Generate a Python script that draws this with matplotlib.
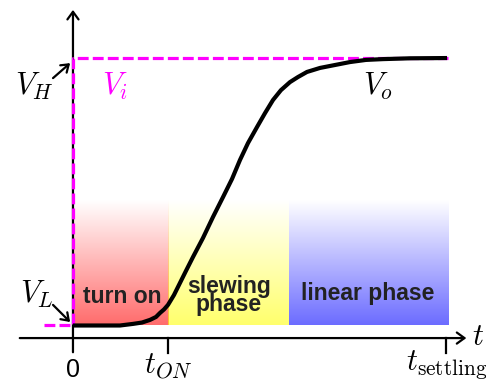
import numpy as np
import matplotlib
matplotlib.use("Agg")
import matplotlib.pyplot as plt

plt.rcParams['mathtext.fontset'] = 'cm'

# time axis: 0 = input step, 1 = t_ON
t_on = 1.0
t_slew_end = 2.27
t_settling = 3.93

# output voltage V_o read along the step response (V_L = 0, V_H = 1)
t_out = [0.0, 0.284, 0.495, 0.632, 0.726, 0.811, 0.874, 0.916, 0.958, 1.0,
         1.063, 1.126, 1.189, 1.263, 1.368, 1.474, 1.579, 1.674, 1.758, 1.842,
         1.937, 2.021, 2.105, 2.189, 2.284, 2.368, 2.463, 2.6, 2.758, 2.916,
         3.084, 3.263, 3.547, 3.937]
v_out = [0.0, 0.0, 0.0, 0.006, 0.011, 0.021, 0.032, 0.047, 0.060, 0.077,
         0.114, 0.159, 0.204, 0.256, 0.327, 0.406, 0.480, 0.548, 0.619, 0.682,
         0.742, 0.794, 0.843, 0.880, 0.910, 0.929, 0.948, 0.963, 0.974, 0.985,
         0.993, 0.996, 0.999, 1.0]

# input step V_i
t_in = [-0.3, 0.0, 0.0, 3.95]
v_in = [0.0, 0.0, 1.0, 1.0]

# shaded phases: (start, end, colour)
phases = [(0.0, t_on, '#ff0000'),
          (t_on, t_slew_end, '#ffff00'),
          (t_slew_end, 3.95, '#0000ff')]
phase_top = 0.47

fig = plt.figure(figsize=(4.86, 3.83), dpi=100)
ax = fig.add_axes([0, 0, 1, 1])
ax.set_xlim(-0.768, 4.347)
ax.set_ylim(-0.215, 1.217)
ax.axis('off')

# colour gradients fading to white upwards
ramp = np.linspace(0.58, 0.0, 200)
for t0, t1, col in phases:
    rgba = np.zeros((200, 1, 4))
    rgba[:, 0, :3] = matplotlib.colors.to_rgb(col)
    rgba[:, 0, 3] = ramp
    ax.imshow(rgba, extent=(t0, t1, 0, phase_top), origin='lower',
              aspect='auto', interpolation='bilinear', zorder=0)

bold = dict(fontsize=16.5, fontweight='bold', color='#222222',
            family='Liberation Sans', ha='center', zorder=4)
ax.text(0.52, 0.084, 'turn on', va='baseline', **bold)
ax.text(1.64, 0.112, 'slewing\nphase', va='center', linespacing=0.72, **bold)
ax.text(3.105, 0.095, 'linear phase', va='baseline', **bold)

# axes with open arrow heads
arr = dict(arrowstyle='->,head_length=0.55,head_width=0.4', lw=1.6,
           color='black', shrinkA=0, shrinkB=0, mutation_scale=10)
ax.annotate('', xy=(4.14, -0.047), xytext=(-0.56, -0.047), arrowprops=arr, zorder=1)
ax.annotate('', xy=(0.0, 1.18), xytext=(0.0, -0.1), arrowprops=arr, zorder=1)
for tk in [t_on, t_settling]:
    ax.plot([tk, tk], [-0.047, -0.103], color='black', lw=1.6, zorder=1)

ax.plot(t_in, v_in, color='#ff00ff', lw=2.3, dashes=(3.4, 1.3), zorder=2)
ax.plot(t_out, v_out, color='black', lw=3.0, solid_joinstyle='round',
        solid_capstyle='butt', zorder=3)

math = dict(fontsize=22, va='baseline', zorder=4)
ax.text(0.0, -0.193, '0', fontsize=18, family='Liberation Sans',
        ha='center', va='baseline')
ax.text(t_on, -0.178, r'$t_{ON}$', ha='center', **math)
ax.text(t_settling, -0.166, r'$t_{\mathrm{settling}}$', ha='center', **math)
ax.text(4.2, -0.072, r'$t$', ha='left', **math)
ax.text(-0.61, 0.862, r'$V_H$', ha='left', **math)
ax.text(-0.558, 0.084, r'$V_L$', ha='left', **math)
ax.text(0.305, 0.862, r'$V_i$', ha='left', color='#ff00ff', **math)
ax.text(3.05, 0.862, r'$V_o$', ha='left', **math)

small = dict(arrowstyle='->,head_length=0.5,head_width=0.35', lw=1.6,
             color='black', shrinkA=0, shrinkB=0, mutation_scale=10)
ax.annotate('', xy=(-0.03, 0.981), xytext=(-0.21, 0.925), arrowprops=small)
ax.annotate('', xy=(-0.03, 0.013), xytext=(-0.21, 0.077), arrowprops=small)

fig.savefig('out.png', dpi=100)
